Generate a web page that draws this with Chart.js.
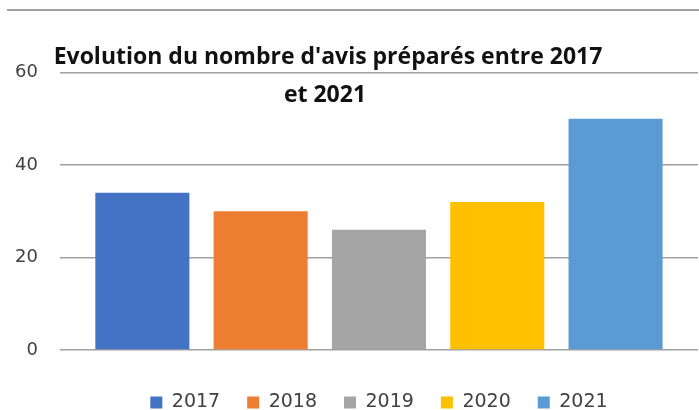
<!DOCTYPE html>
<html lang="fr">
<head>
    <meta charset="utf-8">
    <title>Evolution du nombre d'avis</title>
    <script src="https://cdn.jsdelivr.net/npm/chart.js"></script>
    <style>
        body { margin: 0; background: #fff; }
        .frame { position: relative; width: 699px; height: 410px; }
        .topline { position: absolute; left: 7px; right: 0; top: 9px; border-top: 2px solid #a0a0a0; }
        .chart-container { position: absolute; left: 0; top: 0; width: 699px; height: 410px; }
    </style>
</head>
<body>
    <div class="frame">
        <div class="topline"></div>
        <div class="chart-container">
            <canvas id="chart"></canvas>
        </div>
    </div>
    <script>
    // données
    var years = ["2017", "2018", "2019", "2020", "2021"];
    var avis = [34, 30, 26, 32, 50];
    var colors = ["#4472C4", "#ED7D31", "#A5A5A5", "#FFC000", "#5B9BD5"];
    var titleLines = ["Evolution du nombre d'avis préparés entre 2017", "et 2021"];
    var yTicks = [0, 20, 40, 60];

    // un dataset par année, une seule catégorie
    var datasets = years.map(function(y, i) {
        return {
            label: y,
            data: [avis[i]],
            backgroundColor: colors[i],
            borderWidth: 0,
            categoryPercentage: 0.927,
            barPercentage: 0.795
        };
    });

    // titre dessiné par-dessus la zone du graphique
    var overlayTitle = {
        id: "overlayTitle",
        afterDraw: function(chart) {
            var ctx = chart.ctx;
            ctx.save();
            ctx.fillStyle = "#111";
            ctx.font = "bold 23px 'Open Sans'";
            ctx.textAlign = "center";
            ctx.textBaseline = "alphabetic";
            ctx.fillText(titleLines[0], 328, 64);
            ctx.fillText(titleLines[1], 325, 102);
            ctx.restore();
        }
    };

    var chart = new Chart(document.getElementById("chart"), {
        type: "bar",
        data: {
            labels: [""],
            datasets: datasets
        },
        options: {
            responsive: true,
            maintainAspectRatio: false,
            animation: false,
            layout: { padding: { top: 72.5, left: -7, right: 1, bottom: 0 } },
            scales: {
                x: {
                    grid: { display: false, drawTicks: true, tickLength: 16 },
                    border: { display: false },
                    ticks: { display: false }
                },
                y: {
                    min: 0,
                    max: 60,
                    afterBuildTicks: function(axis) {
                        axis.ticks = yTicks.map(function(v) { return { value: v }; });
                    },
                    grid: { color: "#a0a0a0", lineWidth: 1.6, drawTicks: false },
                    border: { display: false },
                    ticks: {
                        padding: 22,
                        color: "#404040",
                        font: { family: "DejaVu Sans", size: 18 }
                    }
                }
            },
            plugins: {
                legend: {
                    position: "bottom",
                    fullSize: false,
                    maxHeight: 44,
                    labels: {
                        boxWidth: 12,
                        boxHeight: 12,
                        padding: 27,
                        color: "#404040",
                        font: { family: "DejaVu Sans", size: 19 }
                    }
                },
                title: { display: false },
                tooltip: { enabled: false }
            }
        },
        plugins: [overlayTitle]
    });
    </script>
</body>
</html>
